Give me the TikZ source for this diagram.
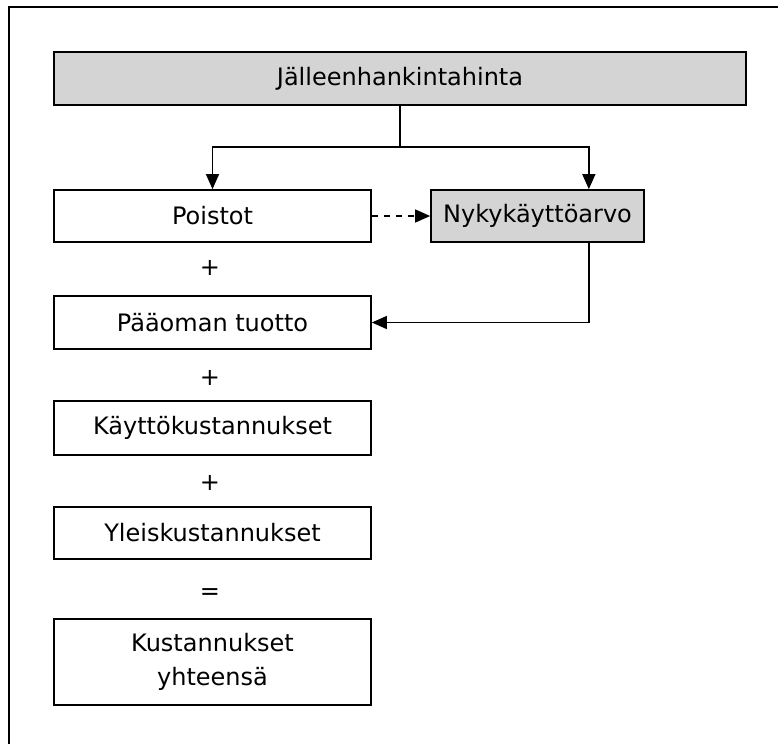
\documentclass[tikz,border=0pt]{standalone}
\usepackage{fontspec}
\setmainfont{DejaVu Sans}
\usetikzlibrary{arrows.meta}
\begin{document}
\begin{tikzpicture}[x=1pt,y=-1pt,
  box/.style={draw, line width=1.7pt, inner sep=0pt, align=center,
    font=\fontsize{24}{34}\selectfont},
  shaded/.style={fill=black!17},
  arr/.style={line width=1.4pt, -{Triangle[length=15pt,width=13pt]}},
  op/.style={font=\fontsize{24}{28}\selectfont, inner sep=0pt}]
\useasboundingbox (0,0) rectangle (778,744);
\draw[line width=1.8pt] (9,744) -- (9,7) -- (778,7);
\node[box,shaded,minimum width=692pt,minimum height=53pt] (top) at (400,78.5) {Jälleenhankintahinta};
\node[box,minimum width=317pt,minimum height=52pt] (poistot) at (212.5,216) {Poistot};
\node[box,shaded,minimum width=213pt,minimum height=52pt] (nyky) at (537.5,216) {Nykykäyttöarvo};
\node[box,minimum width=317pt,minimum height=53pt] (paaoma) at (212.5,322.5) {Pääoman tuotto};
\node[box,minimum width=317pt,minimum height=54pt] (kaytto) at (212.5,428) {Käyttökustannukset};
\node[box,minimum width=317pt,minimum height=52pt] (yleis) at (212.5,533) {Yleiskustannukset};
\node[box,minimum width=317pt,minimum height=86pt] (kust) at (212.5,662) {Kustannukset\\yhteensä};
\node[op] (p1) at (210,268) {+};
\node[op] (p2) at (210,378) {+};
\node[op] (p3) at (210,483) {+};
\node[op] (eq) at (210,594) {=};
\coordinate (j) at (400,147);
\draw[line width=1.4pt] (top.south) -- (j);
\draw[arr] (j) -| (poistot.north);
\draw[arr] (j) -| ([xshift=-56pt]nyky.north east);
\draw[arr, dash pattern=on 6pt off 6pt] (poistot.east) -- (nyky.west);
\draw[arr] ([xshift=-56pt]nyky.south east) |- (paaoma.east);
\end{tikzpicture}
\end{document}
